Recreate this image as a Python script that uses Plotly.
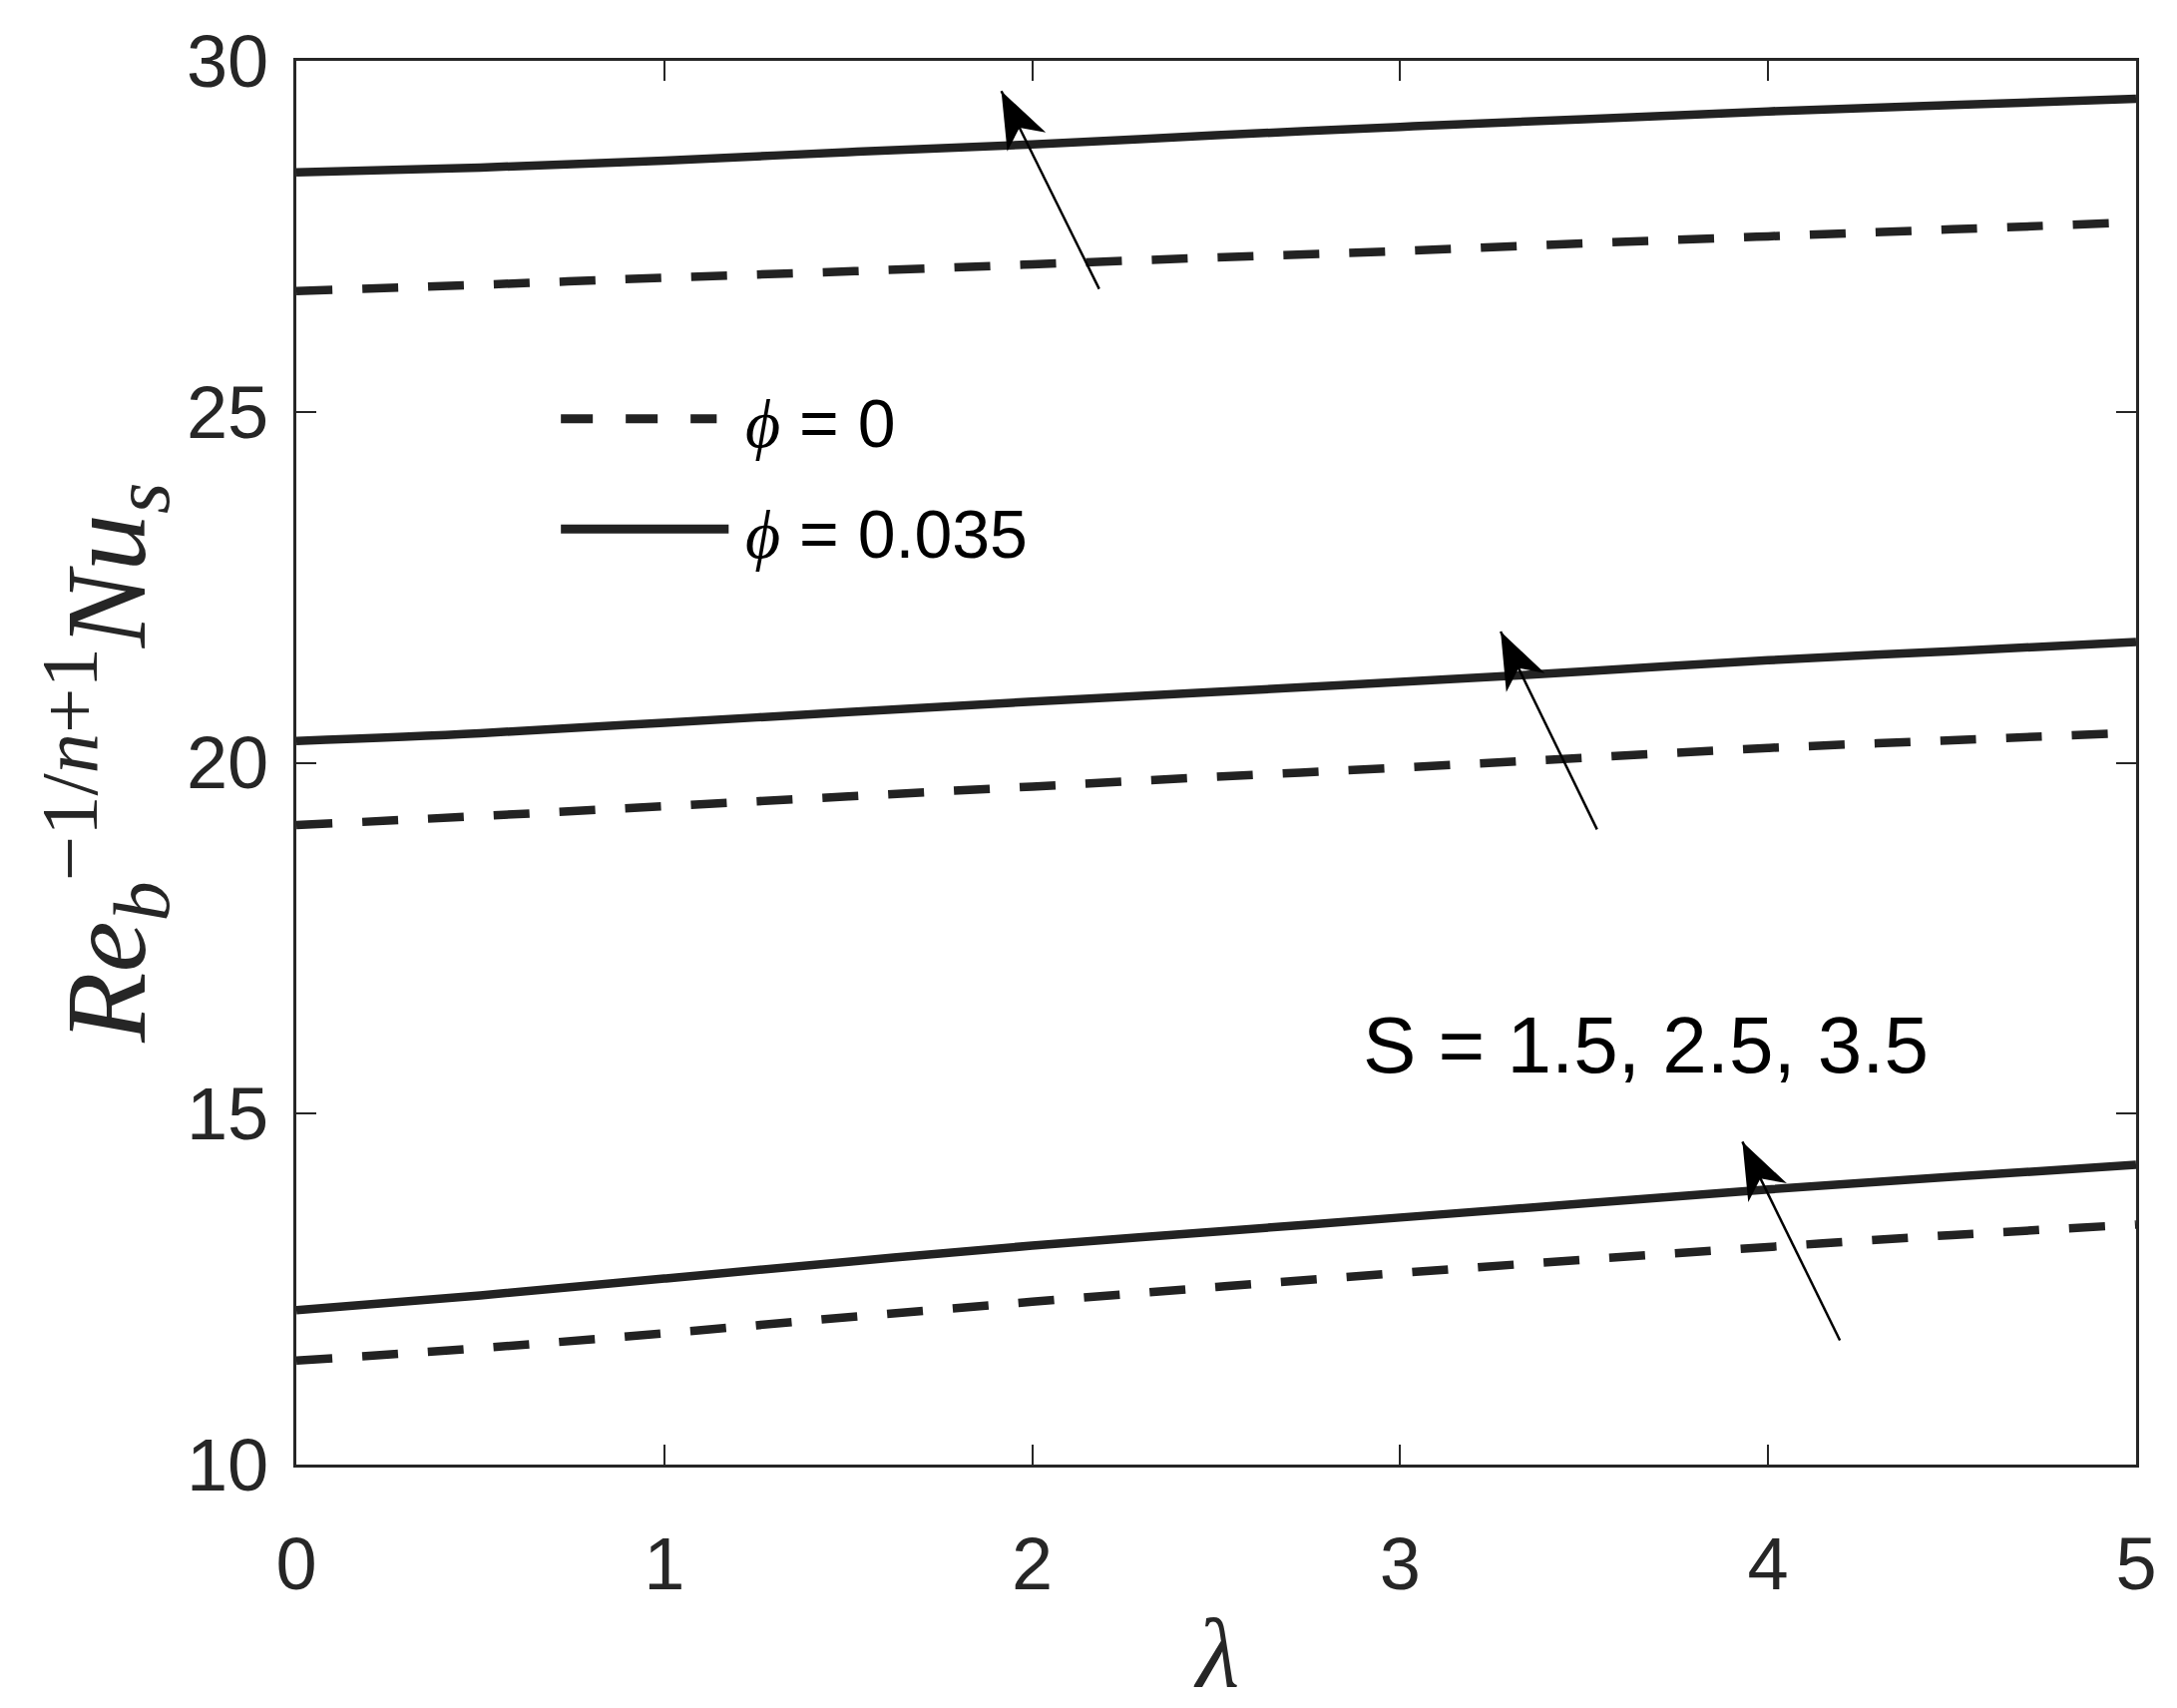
import math

import plotly.graph_objects as go

# lambda values along the horizontal axis
lam = [0, 0.5, 1, 1.5, 2, 2.5, 3, 3.5, 4, 4.5, 5]

# phi = 0 (dashed) for S = 1.5, 2.5, 3.5
nu_s15_phi0 = [11.48, 11.66, 11.87, 12.10, 12.32, 12.53, 12.73, 12.92, 13.10, 13.27, 13.42]
nu_s25_phi0 = [19.11, 19.24, 19.38, 19.52, 19.66, 19.80, 19.93, 20.07, 20.21, 20.32, 20.43]
nu_s35_phi0 = [26.72, 26.81, 26.91, 27.00, 27.10, 27.20, 27.29, 27.40, 27.50, 27.60, 27.70]

# phi = 0.035 (solid) for S = 1.5, 2.5, 3.5
nu_s15_phi035 = [12.20, 12.41, 12.65, 12.89, 13.12, 13.32, 13.52, 13.72, 13.92, 14.10, 14.27]
nu_s25_phi035 = [20.31, 20.42, 20.57, 20.72, 20.87, 21.01, 21.15, 21.30, 21.46, 21.59, 21.72]
nu_s35_phi035 = [28.41, 28.48, 28.58, 28.70, 28.81, 28.94, 29.06, 29.17, 29.28, 29.37, 29.46]

# arrows: (tail x, tail y, tip x, tip y) in data units
arrows = [
    (2.182, 26.75, 1.916, 29.57),
    (3.535, 19.05, 3.273, 21.87),
    (4.195, 11.77, 3.930, 14.60),
]

# the page body has an 8px margin, so the figure is a bit smaller than the window
W, H = 2166, 1696
ML, MR, MT, MB = 289, 13, 41, 236
X_RANGE = [0, 5]
Y_RANGE = [10, 30]
LINE_COL = "#222222"
AX_COL = "#262626"
DASH = "36px,30px"

fig = go.Figure()

for ys in (nu_s15_phi0, nu_s25_phi0, nu_s35_phi0):
    fig.add_trace(go.Scatter(x=lam, y=ys, mode="lines",
                             line=dict(color=LINE_COL, width=8.5, dash=DASH, shape="spline"),
                             showlegend=False, hoverinfo="skip"))
for ys in (nu_s15_phi035, nu_s25_phi035, nu_s35_phi035):
    fig.add_trace(go.Scatter(x=lam, y=ys, mode="lines",
                             line=dict(color=LINE_COL, width=8.5, shape="spline"),
                             showlegend=False, hoverinfo="skip"))

# pixels per data unit, needed to shape the slim arrow heads
px_x = (W - ML - MR) / (X_RANGE[1] - X_RANGE[0])
px_y = (H - MT - MB) / (Y_RANGE[1] - Y_RANGE[0])

shapes = []
for tx, ty, hx, hy in arrows:
    shapes.append(dict(type="line", xref="x", yref="y", x0=tx, y0=ty, x1=hx, y1=hy,
                       line=dict(color="black", width=2.5)))
    dx, dy = (tx - hx) * px_x, (ty - hy) * px_y
    n = math.hypot(dx, dy)
    dx, dy = dx / n, dy / n
    qx, qy = -dy, dx
    hl, hw, nl = 57, 21.5, 41
    b1 = (hl * dx + hw * qx, hl * dy + hw * qy)
    b2 = (hl * dx - hw * qx, hl * dy - hw * qy)
    nt = (nl * dx, nl * dy)
    path = f"M0,0 L{b1[0]:.1f},{b1[1]:.1f} L{nt[0]:.1f},{nt[1]:.1f} L{b2[0]:.1f},{b2[1]:.1f} Z"
    shapes.append(dict(type="path", xsizemode="pixel", ysizemode="pixel", xref="x", yref="y",
                       xanchor=hx, yanchor=hy, path=path, fillcolor="black",
                       line=dict(width=0)))

# legend drawn by hand (long line samples)
shapes.append(dict(type="line", xref="paper", yref="paper", x0=0.1438, x1=0.2285, y0=0.7451, y1=0.7451,
                   line=dict(color=LINE_COL, width=9, dash="32px,33px")))
shapes.append(dict(type="line", xref="paper", yref="paper", x0=0.1438, x1=0.2350, y0=0.6665, y1=0.6665,
                   line=dict(color=LINE_COL, width=9)))

serif = "Liberation Serif, DejaVu Serif, serif"
sans = "Liberation Sans, Arial, sans-serif"
phi = "<span style='font-family:Liberation Serif, DejaVu Serif'><i>\u03d5</i></span>"
annotations = [
    dict(x=0.2430, y=0.742, xref="paper", yref="paper", xanchor="left", yanchor="middle",
         text=phi + " = 0", showarrow=False, font=dict(family=sans, size=68, color="black")),
    dict(x=0.2430, y=0.663, xref="paper", yref="paper", xanchor="left", yanchor="middle",
         text=phi + " = 0.035", showarrow=False, font=dict(family=sans, size=68, color="black")),
    dict(x=3.667, y=15.98, xref="x", yref="y", xanchor="center", yanchor="middle",
         text="S = 1.5, 2.5, 3.5", showarrow=False, font=dict(family=sans, size=80, color="black")),
    dict(x=0.5, y=-0.1346, xref="paper", yref="paper", xanchor="center", yanchor="middle",
         text="<i>\u03bb</i>", showarrow=False, font=dict(family=serif, size=100, color=AX_COL)),
    dict(x=-0.104, y=0.5, xref="paper", yref="paper", xanchor="center", yanchor="middle",
         textangle=-90,
         text="<i>Re</i><sub><i>b</i></sub><sup>\u22121/<i>n</i>+1</sup><i>Nu</i><sub><i>s</i></sub>",
         showarrow=False, font=dict(family=serif, size=115, color=AX_COL)),
]

axis_style = dict(showline=True, linecolor=AX_COL, linewidth=3, mirror="ticks",
                  ticks="inside", ticklen=20, tickwidth=2, tickcolor=AX_COL,
                  showgrid=False, zeroline=False, ticklabeloverflow="allow",
                  tickfont=dict(family=sans, size=74, color=AX_COL))

fig.update_layout(
    width=W, height=H,
    margin=dict(l=ML, r=MR, t=MT, b=MB),
    paper_bgcolor="white", plot_bgcolor="white",
    xaxis=dict(range=X_RANGE, dtick=1, ticklabelstandoff=33, **axis_style),
    yaxis=dict(range=Y_RANGE, dtick=5, ticklabelstandoff=10, **axis_style),
    annotations=annotations,
    shapes=shapes,
    showlegend=False,
)

fig.write_html("out.html")
